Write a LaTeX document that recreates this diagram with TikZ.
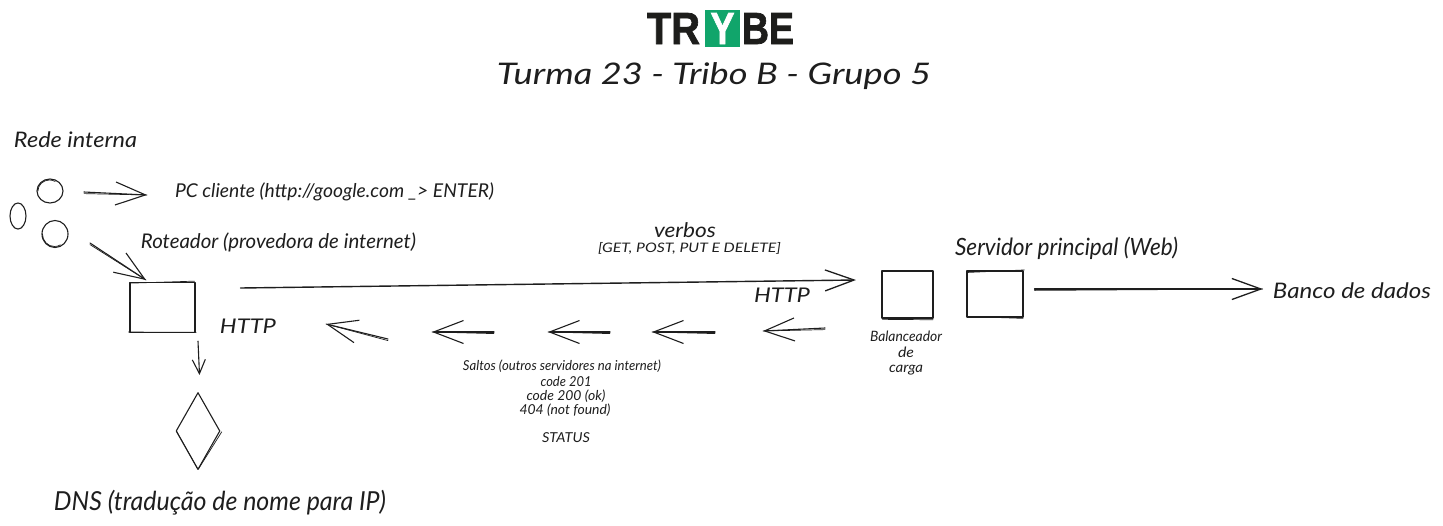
\documentclass[tikz,border=0pt]{standalone}
\usepackage{fontspec}
\usepackage{graphicx}
\usetikzlibrary{arrows.meta,shapes.geometric}
\setmainfont{Liberation Sans}[BoldFeatures={FakeBold=1.6}]
\newfontfamily\hand{Lato}
\definecolor{ink}{HTML}{1E1E1E}
\definecolor{logoink}{HTML}{1D1D1B}
\definecolor{logogreen}{HTML}{11A56B}
% \fit{width}{height}{text}: text stretched to the reference's extent
\newcommand{\fit}[3]{\resizebox{#1pt}{#2pt}{\hand\itshape\strut #3}}
\newcommand{\logofit}[3]{\resizebox{#1pt}{#2pt}{\bfseries #3}}
\tikzset{
  stroke/.style={draw=ink,line width=1.1pt,line cap=round,line join=round},
  rough/.style={draw=ink,line width=.7pt,line cap=round,line join=round},
  sketchbox/.style={stroke,rectangle,inner sep=0pt,fill=none},
  sketchoval/.style={stroke,ellipse,inner sep=0pt},
  sketchdiamond/.style={stroke,diamond,inner sep=0pt,aspect=.58},
  label/.style={inner sep=0pt,text=ink,anchor=center,yshift=-2pt},
  sarrow/.style={stroke,-{Straight Barb[length=30pt,width=23pt,line width=1.1pt]}},
  sarrowsmall/.style={stroke,-{Straight Barb[length=14pt,width=13pt,line width=1.1pt]}},
  sarrowlong/.style={stroke,line width=1.4pt,-{Straight Barb[length=29pt,width=21pt,line width=1.3pt]}},
}
\newcommand{\sarr}[2]{\draw[sarrow] (#1) -- (#2); \draw[rough] ([shift={(0,1.6)}]#1) -- (#2);}
\begin{document}
\begin{tikzpicture}[x=1pt,y=-1pt]
\useasboundingbox (0,0) rectangle (1443,525);
\fill[white] (0,0) rectangle (1443,525);

% logo
\node[inner sep=0pt,text=logoink] (logoTR) at (673.5,28.5) {\logofit{53}{31}{TR}};
\node[inner sep=0pt,fill=logogreen,minimum width=35pt,minimum height=37pt] (logoBox) at (722.5,28.5) {};
\node[inner sep=0pt,text=white] (logoY) at (722.5,28.5) {\logofit{24}{31}{Y}};
\node[inner sep=0pt,text=logoink] (logoBE) at (768,28.5) {\logofit{52}{31}{BE}};

% titles and labels
\node[label] (title) at (714,75) {\fit{434}{25}{Turma 23 - Tribo B - Grupo 5}};
\node[label] (rede) at (75.5,140) {\fit{123}{18}{Rede interna}};
\node[label] (pc) at (334.5,191) {\fit{319}{16}{PC cliente (http://google.com \_> ENTER)}};
\node[label] (roteadorL) at (278.5,242) {\fit{275}{17}{Roteador (provedora de internet)}};
\node[label] (verbos) at (685,231) {\fit{62}{17}{verbos}};
\node[label] (verbs) at (689.5,247.5) {\fit{183}{11}{[GET, POST, PUT E DELETE]}};
\node[label] (servidorL) at (1066.5,248) {\fit{223}{20}{Servidor principal (Web)}};
\node[label] (banco) at (1352,291) {\fit{158}{18}{Banco de dados}};
\node[label] (http1) at (248,327) {\fit{56}{17}{HTTP}};
\node[label] (http2) at (782,296) {\fit{56}{17}{HTTP}};
\node[label] (bal1) at (906,336) {\fit{72}{12}{Balanceador}};
\node[label] (bal2) at (906,352) {\fit{16}{12}{de}};
\node[label] (bal3) at (906,367) {\fit{34}{12}{carga}};
\node[label] (saltos) at (562,365) {\fit{198}{11.5}{Saltos (outros servidores na internet)}};
\node[label] (c201) at (566,381.5) {\fit{51}{11.5}{code 201}};
\node[label] (c200) at (566,395) {\fit{79}{11.5}{code 200 (ok)}};
\node[label] (c404) at (565,409) {\fit{91}{11.5}{404 (not found)}};
\node[label] (status) at (566,437) {\fit{48}{11.5}{STATUS}};
\node[label] (dns) at (220,502) {\fit{332}{22}{DNS (tradução de nome para IP)}};

% shapes
\node[sketchoval,minimum width=26pt,minimum height=24pt] (pcA) at (50,191) {};
\node[sketchoval,minimum width=16pt,minimum height=26pt] (pcB) at (18,216) {};
\node[sketchoval,minimum width=26pt,minimum height=27pt] (pcC) at (55,234) {};
\draw[rough] ([shift={(1.5,0)}]pcA.west) arc[start angle=180,end angle=60,x radius=11.5pt,y radius=11pt];
\draw[rough] ([shift={(1,0)}]pcC.west) arc[start angle=180,end angle=300,x radius=12pt,y radius=12.5pt];
\node[sketchbox,minimum width=65pt,minimum height=50pt] (router) at (162.5,307.5) {};
\draw[rough] ([shift={(1,1.2)}]router.north west) -- ([shift={(-1,-.8)}]router.north east);
\draw[rough] ([shift={(1.2,.8)}]router.north west) -- ([shift={(.8,-1)}]router.south west);
\draw[rough] ([shift={(-1,-1)}]router.south west) -- ([shift={(.6,-.8)}]router.south east);
\node[sketchbox,minimum width=51pt,minimum height=47pt] (lb) at (907.5,294.5) {};
\draw[rough] ([shift={(1,.8)}]lb.south west) -- ([shift={(-.6,1.2)}]lb.south east);
\draw[rough] ([shift={(-1,1)}]lb.north east) -- ([shift={(-.6,-1)}]lb.south east);
\node[sketchbox,minimum width=56pt,minimum height=46pt] (web) at (995,294) {};
\draw[rough] ([shift={(.8,2)}]web.north west) -- ([shift={(.8,-.5)}]web.north east);
\draw[rough] ([shift={(1,-1)}]web.south west) -- ([shift={(-.5,.8)}]web.south east);
\node[sketchdiamond,minimum width=44pt,minimum height=77pt] (dnsShape) at (198,431) {};
\draw[rough] ([shift={(1.2,.8)}]dnsShape.east) -- ([shift={(.4,-1)}]dnsShape.south);
\draw[rough] ([shift={(1,0)}]dnsShape.west) -- ([shift={(-.4,-1)}]dnsShape.south);

% free ends of the connectors
\coordinate (pcOut) at (84,192);
\coordinate (pcTip) at (147,195);
\coordinate (lanOut) at (90,243);
\coordinate (lanTip) at (146,280);
\coordinate (b1) at (825,328);
\coordinate (b1t) at (763,331);
\coordinate (b2) at (715,332);
\coordinate (b2t) at (652,332);
\coordinate (b3) at (610,332);
\coordinate (b3t) at (548,332);
\coordinate (b4) at (494,332);
\coordinate (b4t) at (432,332);
\coordinate (b5) at (388,339);
\coordinate (b5t) at (326,324);

% connectors
\sarr{pcOut}{pcTip}
\sarr{lanOut}{lanTip}
\sarr{b1}{b1t}
\sarr{b2}{b2t}
\sarr{b3}{b3t}
\sarr{b4}{b4t}
\sarr{b5}{b5t}
\draw[sarrowlong] ([shift={(45,-19.5)}]router.east) -- ([shift={(-25.5,-14.5)}]lb.west);
\draw[sarrowlong] ([shift={(11,-5)}]web.east) -- ([shift={(-10,-4)}]banco.west);
\draw[rough] ([shift={(11,-3.6)}]web.east) -- ([shift={(-10,-4)}]banco.west);
\draw[sarrowsmall] ([shift={(35.5,8)}]router.south) -- ([shift={(1.5,-17)}]dnsShape.north);
\end{tikzpicture}
\end{document}
